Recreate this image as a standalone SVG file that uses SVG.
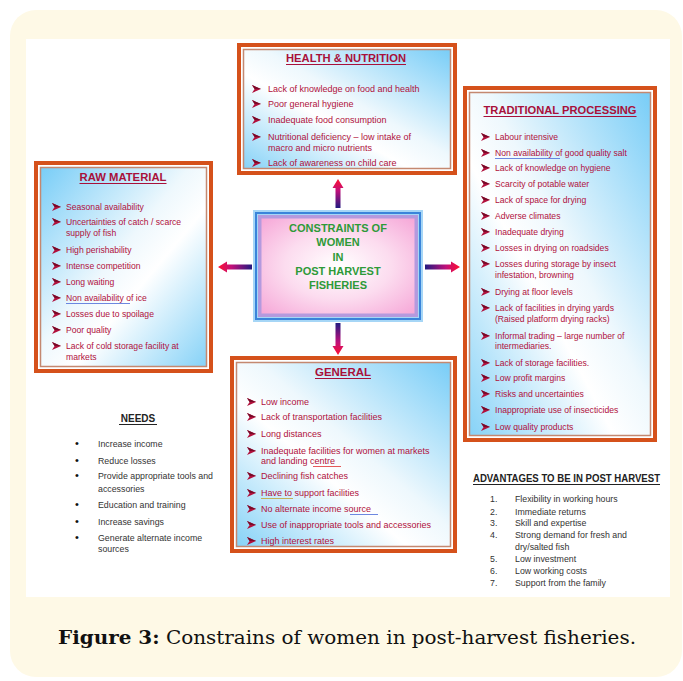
<svg xmlns="http://www.w3.org/2000/svg" width="683" height="681" viewBox="0 0 683 681">
<style>
.item{font-family:"Liberation Sans",Arial,sans-serif;font-size:9px;fill:#b0103c}
.sm{font-size:8.6px}
.ttl{font-family:"Liberation Sans",Arial,sans-serif;font-size:10px;font-weight:bold;fill:#a8103a}
.ctr{font-family:"Liberation Sans",Arial,sans-serif;font-size:11px;font-weight:bold;fill:#2e9a38;text-anchor:middle}
.blk{font-family:"Liberation Sans",Arial,sans-serif;font-size:8.8px;fill:#333}
.dot{font-size:11px;fill:#111}
.blkt{font-family:"Liberation Sans",Arial,sans-serif;font-size:10px;font-weight:bold;fill:#222}
.outer{fill:#ffffff;stroke:#d5511b;stroke-width:4}
.inner{stroke:#c48870;stroke-width:1.5}
.ul{stroke:#a8103a;stroke-width:1}
.sp{fill:none;stroke-width:1;opacity:0.8}
</style>
<defs>
<linearGradient id="gA" x1="1" y1="0" x2="0" y2="1">
<stop offset="0" stop-color="#78cdf7"/>
<stop offset="0.45" stop-color="#eef8fd"/>
<stop offset="0.6" stop-color="#ffffff"/>
<stop offset="1" stop-color="#86d2f7"/>
</linearGradient>
<linearGradient id="gB" x1="0" y1="0" x2="1" y2="1">
<stop offset="0" stop-color="#78cdf7"/>
<stop offset="0.45" stop-color="#eef8fd"/>
<stop offset="0.6" stop-color="#ffffff"/>
<stop offset="1" stop-color="#86d2f7"/>
</linearGradient>
<radialGradient id="gP" cx="0.5" cy="0.5" r="0.7">
<stop offset="0" stop-color="#ffffff"/>
<stop offset="0.5" stop-color="#fcdcef"/>
<stop offset="1" stop-color="#f6a8d8"/>
</radialGradient>
<linearGradient id="aUp" gradientUnits="userSpaceOnUse" x1="0" y1="179" x2="0" y2="208">
<stop offset="0" stop-color="#ff1030"/><stop offset="0.4" stop-color="#c0107a"/><stop offset="1" stop-color="#221a80"/>
</linearGradient>
<linearGradient id="aDn" gradientUnits="userSpaceOnUse" x1="0" y1="355" x2="0" y2="323">
<stop offset="0" stop-color="#ff1030"/><stop offset="0.4" stop-color="#c0107a"/><stop offset="1" stop-color="#221a80"/>
</linearGradient>
<linearGradient id="aLf" gradientUnits="userSpaceOnUse" x1="218" y1="0" x2="252" y2="0">
<stop offset="0" stop-color="#ff1030"/><stop offset="0.4" stop-color="#c0107a"/><stop offset="1" stop-color="#221a80"/>
</linearGradient>
<linearGradient id="aRt" gradientUnits="userSpaceOnUse" x1="460" y1="0" x2="425" y2="0">
<stop offset="0" stop-color="#ff1030"/><stop offset="0.4" stop-color="#c0107a"/><stop offset="1" stop-color="#221a80"/>
</linearGradient>
<symbol id="bul" viewBox="0 0 9 8" overflow="visible">
<path d="M0,0 L9,4 L0,8 L2.6,4 Z" fill="#b0103c"/>
<path d="M0,0 L9,4 L2.6,4 Z" fill="#7a0a28"/>
</symbol>
</defs>

<!-- background -->
<rect x="10" y="10" width="672" height="667" rx="26" fill="#fef9e6"/>
<rect x="26" y="39" width="644" height="558" fill="#ffffff"/>

<!-- connectors -->
<g id="connectors">
<path d="M335.5,208 V188 H332.5 L338,179 L343.5,188 H340.5 V208 Z" fill="url(#aUp)"/>
<path d="M335.5,323 V346 H332.5 L338,355 L343.5,346 H340.5 V323 Z" fill="url(#aDn)"/>
<path d="M252,264.5 H227 V261.5 L218,267 L227,272.5 V269.5 H252 Z" fill="url(#aLf)"/>
<path d="M425,264.5 H451 V261.5 L460,267 L451,272.5 V269.5 H425 Z" fill="url(#aRt)"/>
</g>

<!-- Health & Nutrition -->
<g id="health">
<rect class="outer" x="239" y="45" width="216" height="128"/>
<rect class="inner" x="243.5" y="49.5" width="207" height="119" fill="url(#gA)"/>
<text class="ttl" x="346" y="62" text-anchor="middle" textLength="120" lengthAdjust="spacingAndGlyphs">HEALTH &amp; NUTRITION</text>
<line class="ul" x1="286" y1="64.5" x2="406" y2="64.5"/>
<use href="#bul" x="252" y="85" width="9" height="8"/>
<text class="item" x="268" y="92">Lack of knowledge on food and health</text>
<use href="#bul" x="252" y="100" width="9" height="8"/>
<text class="item" x="268" y="107">Poor general hygiene</text>
<use href="#bul" x="252" y="116" width="9" height="8"/>
<text class="item" x="268" y="123">Inadequate food consumption</text>
<use href="#bul" x="252" y="133" width="9" height="8"/>
<text class="item" x="268" y="140">Nutritional deficiency – low intake of</text>
<text class="item" x="268" y="151">macro and micro nutrients</text>
<use href="#bul" x="252" y="159" width="9" height="8"/>
<text class="item" x="268" y="166">Lack of awareness on child care</text>
</g>

<!-- Traditional processing -->
<g id="traditional">
<rect class="outer" x="465" y="88" width="190" height="352"/>
<rect class="inner" x="469.5" y="92.5" width="181" height="343" fill="url(#gA)"/>
<text class="ttl" x="560" y="114" text-anchor="middle" textLength="153" lengthAdjust="spacingAndGlyphs">TRADITIONAL PROCESSING</text>
<line class="ul" x1="483.5" y1="116.5" x2="636.5" y2="116.5"/>
<g class="item sm">
<use href="#bul" x="481" y="133" width="9" height="8"/><text x="495" y="140">Labour intensive</text>
<use href="#bul" x="481" y="149" width="9" height="8"/><text x="495" y="156">Non availability of good quality salt</text>
<use href="#bul" x="481" y="164" width="9" height="8"/><text x="495" y="171">Lack of knowledge on hygiene</text>
<use href="#bul" x="481" y="180" width="9" height="8"/><text x="495" y="187">Scarcity of potable water</text>
<use href="#bul" x="481" y="196" width="9" height="8"/><text x="495" y="203">Lack of space for drying</text>
<use href="#bul" x="481" y="212" width="9" height="8"/><text x="495" y="219">Adverse climates</text>
<use href="#bul" x="481" y="228" width="9" height="8"/><text x="495" y="235">Inadequate drying</text>
<use href="#bul" x="481" y="244" width="9" height="8"/><text x="495" y="251">Losses in drying on roadsides</text>
<use href="#bul" x="481" y="260" width="9" height="8"/><text x="495" y="267">Losses during storage by insect</text>
<text x="495" y="278">infestation, browning</text>
<use href="#bul" x="481" y="288" width="9" height="8"/><text x="495" y="295">Drying at floor levels</text>
<use href="#bul" x="481" y="304" width="9" height="8"/><text x="495" y="311">Lack of facilities in drying yards</text>
<text x="495" y="322">(Raised platform drying racks)</text>
<use href="#bul" x="481" y="332" width="9" height="8"/><text x="495" y="339">Informal trading – large number of</text>
<text x="495" y="349">intermediaries.</text>
<use href="#bul" x="481" y="359" width="9" height="8"/><text x="495" y="366">Lack of storage facilities.</text>
<use href="#bul" x="481" y="374" width="9" height="8"/><text x="495" y="381">Low profit margins</text>
<use href="#bul" x="481" y="390" width="9" height="8"/><text x="495" y="397">Risks and uncertainties</text>
<use href="#bul" x="481" y="406" width="9" height="8"/><text x="495" y="413">Inappropriate use of insecticides</text>
<use href="#bul" x="481" y="423" width="9" height="8"/><text x="495" y="430">Low quality products</text>
</g>
<line class="sp" stroke="#4a6ad8" x1="495" y1="158.5" x2="560" y2="158.5"/>
</g>

<!-- Raw material -->
<g id="rawmaterial">
<rect class="outer" x="36" y="163" width="175" height="208"/>
<rect class="inner" x="40.5" y="167.5" width="166" height="199" fill="url(#gB)"/>
<text class="ttl" x="123" y="181" text-anchor="middle" textLength="87" lengthAdjust="spacingAndGlyphs">RAW MATERIAL</text>
<line class="ul" x1="79.5" y1="183.5" x2="166.5" y2="183.5"/>
<g class="item sm">
<use href="#bul" x="52" y="203" width="9" height="8"/><text x="66" y="210">Seasonal availability</text>
<use href="#bul" x="52" y="218" width="9" height="8"/><text x="66" y="225">Uncertainties of catch / scarce</text>
<text x="66" y="236">supply of fish</text>
<use href="#bul" x="52" y="246" width="9" height="8"/><text x="66" y="253">High perishability</text>
<use href="#bul" x="52" y="262" width="9" height="8"/><text x="66" y="269">Intense competition</text>
<use href="#bul" x="52" y="278" width="9" height="8"/><text x="66" y="285">Long waiting</text>
<use href="#bul" x="52" y="294" width="9" height="8"/><text x="66" y="301">Non availability of ice</text>
<use href="#bul" x="52" y="310" width="9" height="8"/><text x="66" y="317">Losses due to spoilage</text>
<use href="#bul" x="52" y="326" width="9" height="8"/><text x="66" y="333">Poor quality</text>
<use href="#bul" x="52" y="342" width="9" height="8"/><text x="66" y="349">Lack of cold storage facility at</text>
<text x="66" y="360">markets</text>
</g>
<line class="sp" stroke="#4a6ad8" x1="66" y1="303.5" x2="130" y2="303.5"/>
</g>

<!-- Center -->
<g id="center">
<rect x="253" y="210" width="170" height="112" fill="#a6d6f6"/>
<rect x="256" y="213" width="164" height="106" fill="none" stroke="#3a84da" stroke-width="2"/>
<rect x="258" y="215" width="160" height="102" fill="#b49ade"/>
<rect x="261.5" y="218.5" width="153" height="95" fill="url(#gP)"/>
<text class="ctr" x="338" y="232">CONSTRAINTS OF</text>
<text class="ctr" x="338" y="246">WOMEN</text>
<text class="ctr" x="338" y="261">IN</text>
<text class="ctr" x="338" y="275">POST HARVEST</text>
<text class="ctr" x="338" y="289">FISHERIES</text>
</g>

<!-- General -->
<g id="general">
<rect class="outer" x="232" y="358" width="223" height="193"/>
<rect class="inner" x="236.5" y="362.5" width="214" height="184" fill="url(#gA)"/>
<text class="ttl" x="343" y="376" text-anchor="middle" textLength="56" lengthAdjust="spacingAndGlyphs">GENERAL</text>
<line class="ul" x1="315" y1="378.5" x2="371" y2="378.5"/>
<g class="item">
<use href="#bul" x="247" y="398" width="9" height="8"/><text x="261" y="405">Low income</text>
<use href="#bul" x="247" y="413" width="9" height="8"/><text x="261" y="420">Lack of transportation facilities</text>
<use href="#bul" x="247" y="430" width="9" height="8"/><text x="261" y="437">Long distances</text>
<use href="#bul" x="247" y="447" width="9" height="8"/><text x="261" y="454">Inadequate facilities for women at markets</text>
<text x="261" y="464">and landing centre</text>
<use href="#bul" x="247" y="472" width="9" height="8"/><text x="261" y="479">Declining fish catches</text>
<use href="#bul" x="247" y="489" width="9" height="8"/><text x="261" y="496">Have to support facilities</text>
<use href="#bul" x="247" y="505" width="9" height="8"/><text x="261" y="512">No alternate income source</text>
<use href="#bul" x="247" y="521" width="9" height="8"/><text x="261" y="528">Use of inappropriate tools and accessories</text>
<use href="#bul" x="247" y="537" width="9" height="8"/><text x="261" y="544">High interest rates</text>
</g>
<line class="sp" stroke="#e03030" x1="313" y1="466.5" x2="341" y2="466.5"/>
<line class="sp" stroke="#c0a030" x1="261" y1="498.5" x2="293" y2="498.5"/>
<line class="sp" stroke="#4a6ad8" x1="350" y1="514.5" x2="378" y2="514.5"/>
</g>

<!-- Needs -->
<g id="needs">
<text class="blkt" x="138" y="422" text-anchor="middle">NEEDS</text>
<line x1="119" y1="424.5" x2="157" y2="424.5" stroke="#222" stroke-width="1"/>
<g class="blk">
<text class="dot" x="75" y="447">•</text><text x="98" y="447">Increase income</text>
<text class="dot" x="75" y="464">•</text><text x="98" y="464">Reduce losses</text>
<text class="dot" x="75" y="479">•</text><text x="98" y="479">Provide appropriate tools and</text>
<text x="98" y="492">accessories</text>
<text class="dot" x="75" y="508">•</text><text x="98" y="508">Education and training</text>
<text class="dot" x="75" y="525">•</text><text x="98" y="525">Increase savings</text>
<text class="dot" x="75" y="541">•</text><text x="98" y="541">Generate alternate income</text>
<text x="98" y="552">sources</text>
</g>
</g>

<!-- Advantages -->
<g id="advantages">
<text class="blkt" x="473" y="482" font-size="9" textLength="187" lengthAdjust="spacingAndGlyphs">ADVANTAGES  TO BE IN POST HARVEST</text>
<line x1="473" y1="484.5" x2="660" y2="484.5" stroke="#222" stroke-width="1"/>
<g class="blk" font-size="8.4">
<text x="490" y="502">1.</text><text x="515" y="502">Flexibility in working hours</text>
<text x="490" y="515">2.</text><text x="515" y="515">Immediate returns</text>
<text x="490" y="526">3.</text><text x="515" y="526">Skill and expertise</text>
<text x="490" y="538">4.</text><text x="515" y="538">Strong demand for fresh and</text>
<text x="515" y="550">dry/salted fish</text>
<text x="490" y="562">5.</text><text x="515" y="562">Low investment</text>
<text x="490" y="574">6.</text><text x="515" y="574">Low working costs</text>
<text x="490" y="586">7.</text><text x="515" y="586">Support from the family</text>
</g>
</g>

<!-- Caption -->
<text x="58" y="644" font-family="'DejaVu Serif Condensed','Liberation Serif',serif" font-size="19" fill="#111" textLength="578" lengthAdjust="spacingAndGlyphs"><tspan font-weight="bold">Figure 3:</tspan> Constrains of women in post-harvest fisheries.</text>
</svg>
